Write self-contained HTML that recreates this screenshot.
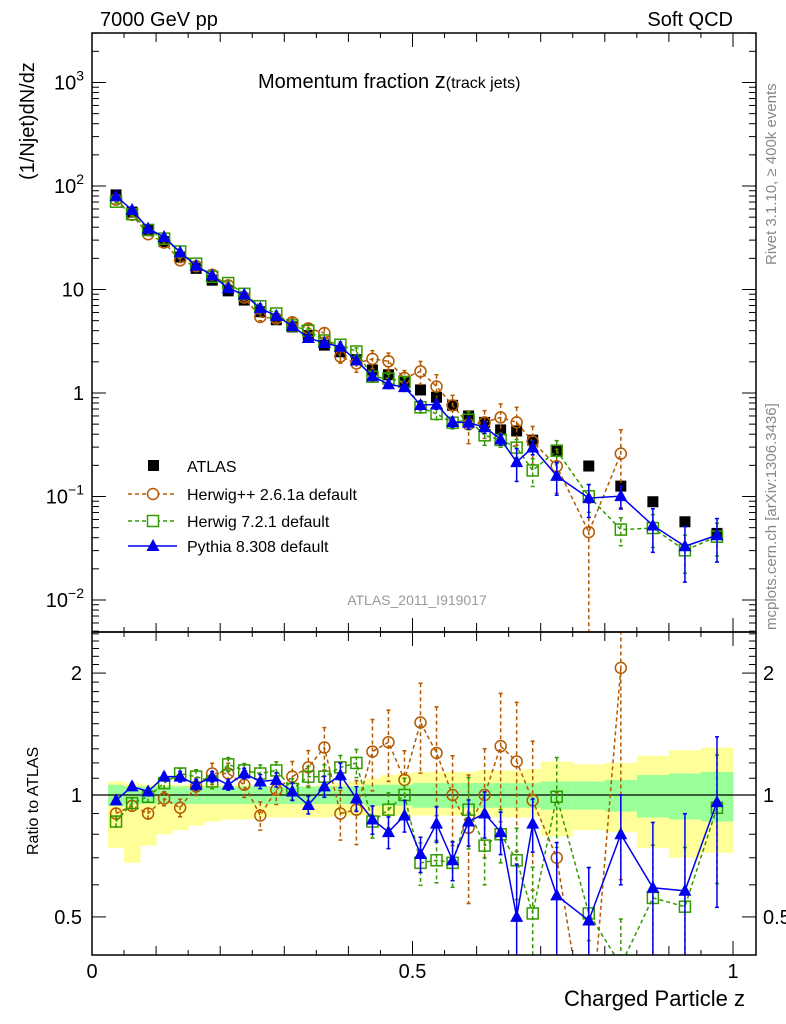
<!DOCTYPE html>
<html><head><meta charset="utf-8"><style>
html,body{margin:0;padding:0;background:#fff;width:786px;height:1024px;overflow:hidden;}
svg{display:block;font-family:"Liberation Sans",sans-serif;}
</style></head><body>
<svg id="c" width="786" height="1024" viewBox="0 0 786 1024" xmlns="http://www.w3.org/2000/svg"></svg>
<script>
// ---- data ----
const zCenters=[0.0375,0.0625,0.0875,0.1125,0.1375,0.1625,0.1875,0.2125,0.2375,0.2625,0.2875,0.3125,0.3375,0.3625,0.3875,0.4125,0.4375,0.4625,0.4875,0.5125,0.5375,0.5625,0.5875,0.6125,0.6375,0.6625,0.6875,0.725,0.775,0.825,0.875,0.925,0.975];
const atlasVals=[82,56,38,29,20.6,16,12.3,9.7,7.9,6.1,5.1,4.35,3.6,2.9,2.5,2.1,1.67,1.5,1.28,1.07,0.91,0.76,0.60,0.52,0.44,0.43,0.35,0.28,0.197,0.126,0.089,0.057,0.044];
const bandTotUp=[0.08,0.07,0.06,0.06,0.06,0.06,0.06,0.06,0.06,0.05,0.05,0.05,0.05,0.06,0.07,0.08,0.10,0.12,0.13,0.14,0.14,0.14,0.14,0.15,0.15,0.15,0.16,0.21,0.19,0.20,0.25,0.29,0.31];
const bandTotDn=[0.26,0.32,0.25,0.20,0.18,0.16,0.14,0.13,0.13,0.12,0.12,0.12,0.12,0.12,0.11,0.11,0.11,0.11,0.11,0.11,0.11,0.11,0.11,0.11,0.12,0.12,0.12,0.21,0.18,0.19,0.26,0.30,0.28];
const bandStat=[0.06,0.05,0.05,0.05,0.05,0.05,0.05,0.05,0.05,0.05,0.05,0.05,0.05,0.05,0.05,0.05,0.06,0.06,0.06,0.07,0.07,0.07,0.07,0.07,0.07,0.07,0.07,0.08,0.08,0.09,0.12,0.13,0.14];
const hppRatio=[0.90,0.94,0.90,0.98,0.93,1.05,1.13,1.13,1.06,0.89,1.03,1.11,1.17,1.31,0.90,0.92,1.28,1.35,1.09,1.51,1.27,1.00,0.83,1.00,1.32,1.21,0.97,0.70,0.23,2.06,null,null,null];
const hppErr=[0.03,0.03,0.03,0.04,0.05,0.05,0.06,0.06,0.07,0.08,0.08,0.09,0.10,0.12,0.14,0.18,0.20,0.20,0.18,0.25,0.3,0.25,0.35,0.3,0.35,0.4,0.4,0.45,0.9,0.7,0,0,0];
const h7Ratio=[0.86,0.955,0.99,1.07,1.13,1.11,1.08,1.19,1.15,1.13,1.15,1.035,1.11,1.11,1.17,1.20,0.86,0.92,1.00,0.68,0.69,0.68,0.92,0.75,0.80,0.69,0.51,0.99,0.51,0.38,0.557,0.53,0.93];
const h7Err=[0.03,0.03,0.03,0.03,0.03,0.04,0.04,0.04,0.04,0.05,0.05,0.06,0.06,0.07,0.07,0.08,0.09,0.10,0.10,0.12,0.12,0.13,0.20,0.20,0.15,0.20,0.30,0.25,0.30,0.30,0.35,0.40,0.35];
const pyRatio=[0.97,1.05,1.02,1.11,1.11,1.06,1.11,1.06,1.13,1.08,1.09,1.02,0.945,1.05,1.12,0.98,0.87,0.81,0.89,0.715,0.85,0.69,0.86,0.90,0.81,0.50,0.85,0.565,0.49,0.80,0.59,0.58,0.96];
const pyErr=[0.02,0.02,0.02,0.02,0.03,0.03,0.03,0.03,0.03,0.04,0.04,0.05,0.05,0.06,0.07,0.07,0.08,0.09,0.09,0.10,0.10,0.11,0.13,0.13,0.12,0.35,0.15,0.35,0.35,0.25,0.45,0.55,0.45];
const binW=[0.025,0.025,0.025,0.025,0.025,0.025,0.025,0.025,0.025,0.025,0.025,0.025,0.025,0.025,0.025,0.025,0.025,0.025,0.025,0.025,0.025,0.025,0.025,0.025,0.025,0.025,0.025,0.05,0.05,0.05,0.05,0.05,0.05];
const yTickExp=[-2,-1,0,1,2,3];
const ratioTicks=[0.5,1,2];
const xTicks=[0,0.5,1];
// ---- geometry ----
const L=92,R=756,T=33,MB=632,RB=955;
const sx=z=>L+z*641;
const sy=v=>393-Math.log10(v)*103.5;
const sr=v=>795-Math.log10(v)*405;
const svg=document.getElementById('c');
const NS='http://www.w3.org/2000/svg';
function mk(tag,attrs,parent){const e=document.createElementNS(NS,tag);for(const k in attrs)e.setAttribute(k,attrs[k]);(parent||svg).appendChild(e);return e;}
function txt(s,x,y,size,attrs,parent){const e=mk('text',Object.assign({x:x,y:y,'font-size':size},attrs||{}),parent);e.textContent=s;return e;}
const defs=mk('defs',{});
const cp1=mk('clipPath',{id:'cm'},defs);mk('rect',{x:L,y:T,width:R-L,height:MB-T},cp1);
const cp2=mk('clipPath',{id:'cr'},defs);mk('rect',{x:L,y:MB,width:R-L,height:RB-MB},cp2);
// ---- ratio bands ----
const bands=mk('g',{'clip-path':'url(#cr)'});


zCenters.forEach((z,i)=>{
  const x0=sx(z-binW[i]/2),x1=sx(z+binW[i]/2);
  const y=mk('rect',{x:x0,y:sr(1+bandTotUp[i]),width:x1-x0+0.5,height:sr(1-bandTotDn[i])-sr(1+bandTotUp[i]),fill:'#ffff99'},bands);
  
  
  const g=mk('rect',{x:x0,y:sr(1+bandStat[i]),width:x1-x0+0.5,height:sr(1-bandStat[i])-sr(1+bandStat[i]),fill:'#99ff99'},bands);
  
  
});
mk('line',{x1:L,x2:R,y1:sr(1),y2:sr(1),stroke:'#000','stroke-width':1.2},bands);
// ---- series ----
function series(ratio,err,color,dash,marker,name,main){
  const g=mk('g',{'clip-path':main?'url(#cm)':'url(#cr)'});
  
  
  const pts=[];
  zCenters.forEach((z,i)=>{
    if(ratio[i]==null)return;
    const v=main?atlasVals[i]*ratio[i]:ratio[i];
    const f=main?sy:sr;
    pts.push([sx(z),f(v),v,err[i]]);
  });
  mk('polyline',{points:pts.map(p=>p[0]+','+p[1]).join(' '),fill:'none',stroke:color,'stroke-width':1.5,'stroke-dasharray':dash},g);
  pts.forEach(p=>{
    const f=main?sy:sr;const lo=Math.max(p[2]*(1-p[3]),1e-4),hi=p[2]*(1+p[3]);
    if(p[3]>0){
      mk('line',{x1:p[0],x2:p[0],y1:f(hi),y2:f(lo),stroke:color,'stroke-width':1.5,'stroke-dasharray':dash},g);
      mk('line',{x1:p[0]-2,x2:p[0]+2,y1:f(hi),y2:f(hi),stroke:color,'stroke-width':1.5},g);
      mk('line',{x1:p[0]-2,x2:p[0]+2,y1:f(lo),y2:f(lo),stroke:color,'stroke-width':1.5},g);
    }
    let m;
    if(marker==='circle')m=mk('circle',{cx:p[0],cy:p[1],r:5.5,fill:'none',stroke:color,'stroke-width':1.5},g);
    else if(marker==='osq')m=mk('rect',{x:p[0]-5.5,y:p[1]-5.5,width:11,height:11,fill:'none',stroke:color,'stroke-width':1.5},g);
    else m=mk('polygon',{points:`${p[0]},${p[1]-7} ${p[0]-6.5},${p[1]+5} ${p[0]+6.5},${p[1]+5}`,fill:color},g);
    
    
  });
}
const ag=mk('g',{'clip-path':'url(#cm)'});


zCenters.forEach((z,i)=>{
  const r=mk('rect',{x:sx(z)-5.5,y:sy(atlasVals[i])-5.5,width:11,height:11,fill:'#000'},ag);
  
  
});
series(hppRatio,hppErr,'#b35900','4,3','circle','herwigpp',true);
series(h7Ratio,h7Err,'#339900','4,3','osq','herwig7',true);
series(pyRatio,pyErr,'#0000ee','none','tri','pythia8',true);
series(hppRatio,hppErr,'#b35900','4,3','circle','herwigpp',false);
series(h7Ratio,h7Err,'#339900','4,3','osq','herwig7',false);
series(pyRatio,pyErr,'#0000ee','none','tri','pythia8',false);
// ---- frames ----
mk('rect',{x:L,y:T,width:R-L,height:MB-T,fill:'none',stroke:'#000','stroke-width':1.5});
mk('rect',{x:L,y:MB,width:R-L,height:RB-MB,fill:'none',stroke:'#000','stroke-width':1.5});
for(let k=0;k<=20;k++){
  const z=k*0.05;const x=sx(z);if(x>R)break;
  const len=(k%10===0)?14:(k%2===0?9:5);
  [[MB,-1],[T,1],[RB,-1],[MB,1]].forEach(([y0,d])=>mk('line',{x1:x,x2:x,y1:y0,y2:y0+d*len,stroke:'#000','stroke-width':1}));
}
xTicks.forEach(v=>{const t=txt(String(v),sx(v),978,20,{'text-anchor':'middle'});});
for(let e=-3;e<=3;e++){for(let m=1;m<10;m++){const v=m*Math.pow(10,e);const y=sy(v);if(y<T||y>MB)continue;const len=m===1?14:7;
  mk('line',{x1:L,x2:L+len,y1:y,y2:y,stroke:'#000'});mk('line',{x1:R,x2:R-len,y1:y,y2:y,stroke:'#000'});}}
yTickExp.forEach(e=>{
  const y=sy(Math.pow(10,e))+7;let t;
  if(e===0)t=txt('1',84,y,20,{'text-anchor':'end'});
  else if(e===1)t=txt('10',84,y,20,{'text-anchor':'end'});
  else{t=mk('text',{x:84,y:y,'font-size':20,'text-anchor':'end'});t.innerHTML='10<tspan dy="-9" font-size="14">'+(e<0?'−':'')+Math.abs(e)+'</tspan>';}
  
});
for(let v=0.4;v<=2.6;v+=0.1){const y=sr(v);if(y<MB||y>RB)continue;const maj=[0.5,1,2].some(a=>Math.abs(a-v)<1e-6);const len=maj?14:7;
  mk('line',{x1:L,x2:L+len,y1:y,y2:y,stroke:'#000'});mk('line',{x1:R,x2:R-len,y1:y,y2:y,stroke:'#000'});}
ratioTicks.forEach(v=>{
  const a=txt(String(v),82,sr(v)+7,20,{'text-anchor':'end'});
  const b=txt(String(v),763,sr(v)+7,20,{});
});
// ---- labels ----
let t;
t=txt('7000 GeV pp',100,26,20,{});
t=txt('Soft QCD',733,26,20,{'text-anchor':'end'});
t=mk('text',{x:258,y:88,'font-size':20});t.innerHTML='Momentum fraction <tspan font-size="22">z</tspan><tspan font-size="16">(track jets)</tspan>';
t=txt('(1/Njet)dN/dz',0,0,20,{transform:'translate(34,180) rotate(-90)'});
t=txt('Ratio to ATLAS',0,0,16,{transform:'translate(38,855) rotate(-90)'});
t=txt('Charged Particle z',745,1006,22,{'text-anchor':'end'});
t=txt('ATLAS_2011_I919017',417,605,14,{'text-anchor':'middle',fill:'#999'});
t=txt('Rivet 3.1.10, ≥ 400k events',0,0,15,{transform:'translate(776,265) rotate(-90)',fill:'#888'});
t=txt('mcplots.cern.ch [arXiv:1306.3436]',0,0,15,{transform:'translate(776,630) rotate(-90)',fill:'#888'});
// ---- legend ----
const lg=mk('g',{});


const legNames=['ATLAS','Herwig++ 2.6.1a default','Herwig 7.2.1 default','Pythia 8.308 default'];
const legY=[466,494,521,546];
legNames.forEach((n,i)=>{
  const y=legY[i];const g=mk('g',{},lg);
  
  
  if(i===0)mk('rect',{x:148,y:y-6,width:11,height:11,fill:'#000'},g);
  if(i===1){mk('line',{x1:128,x2:177,y1:y,y2:y,stroke:'#b35900','stroke-width':1.5,'stroke-dasharray':'4,3'},g);mk('circle',{cx:153,cy:y,r:5.5,fill:'#fff',stroke:'#b35900','stroke-width':1.5},g);}
  if(i===2){mk('line',{x1:128,x2:177,y1:y,y2:y,stroke:'#339900','stroke-width':1.5,'stroke-dasharray':'4,3'},g);mk('rect',{x:147.5,y:y-5.5,width:11,height:11,fill:'#fff',stroke:'#339900','stroke-width':1.5},g);}
  if(i===3){mk('line',{x1:128,x2:177,y1:y,y2:y,stroke:'#0000ee','stroke-width':1.5},g);mk('polygon',{points:`153,${y-7} 146.5,${y+5} 159.5,${y+5}`,fill:'#0000ee'},g);}
  txt(n,187,y+6,16,{},g);
});
</script>
</body></html>
